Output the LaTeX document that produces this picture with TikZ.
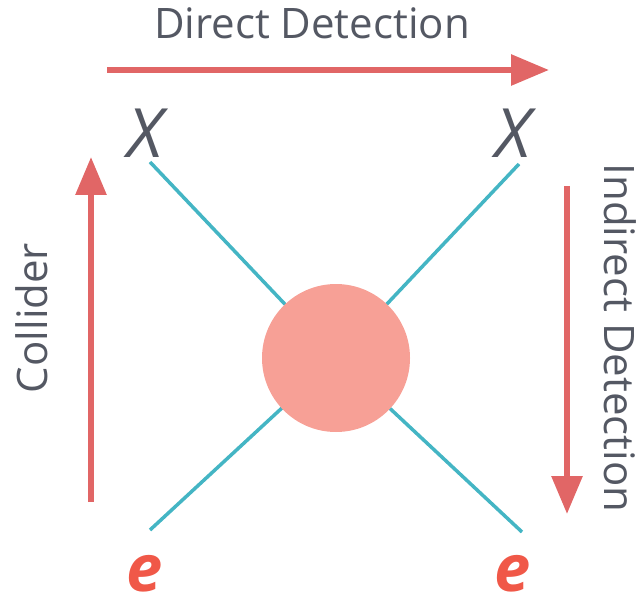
\documentclass[tikz,border=0pt]{standalone}
\usepackage{fontspec}
\setmainfont{Open Sans}
\usetikzlibrary{arrows.meta,positioning}
\usepackage{xcolor}
\definecolor{arrowred}{RGB}{225,102,102}
\definecolor{textgray}{RGB}{84,88,99}
\definecolor{linkteal}{RGB}{68,181,196}
\definecolor{blobpink}{RGB}{247,160,150}
\definecolor{ered}{RGB}{240,88,72}

\begin{document}
\begin{tikzpicture}[
            x=1pt, y=1pt,
            arrow/.style={-{Triangle[length=38pt,width=30pt]}, line width=6pt, draw=arrowred},
            link/.style={line width=3.5pt, draw=linkteal},
            label/.style={text=textgray, font=\fontsize{42}{46}\selectfont, inner sep=0pt},
            particle/.style={text=textgray, font=\fontsize{68}{70}\selectfont\itshape, inner sep=0pt},
            lepton/.style={text=ered, font=\fontsize{65}{66}\selectfont\bfseries\itshape, inner sep=0pt}
        ]
            \useasboundingbox (0,0) rectangle (644,595);

            % --- PARTICULAS ---
            \node[particle] (chiL) at (145,462) {X};
            \node[particle] (chiR) at (513,462) {X};
            \node[lepton] (eL) at (145,21) {e};
            \node[lepton] (eR) at (513,21) {e};

            % --- LINHAS DO VERTICE ---
            \coordinate (tlEnd) at (150,433);
            \coordinate (trEnd) at (519,431);
            \coordinate (blEnd) at (150,65);
            \coordinate (brEnd) at (522,63);
            \coordinate (center) at (336,237);
            \draw[link] (tlEnd) -- (center);
            \draw[link] (trEnd) -- (center);
            \draw[link] (blEnd) -- (center);
            \draw[link] (brEnd) -- (center);
            \node[circle, fill=blobpink, minimum size=148pt, inner sep=0pt] (blob) at (center) {};

            % --- SETAS ---
            \coordinate (directStart) at (107,525);
            \coordinate (directEnd) at (549,525);
            \draw[arrow] (directStart) -- (directEnd);
            \coordinate (colliderStart) at (91,93);
            \coordinate (colliderEnd) at (91,438);
            \draw[arrow] (colliderStart) -- (colliderEnd);
            \coordinate (indirectStart) at (567,409);
            \coordinate (indirectEnd) at (567,81);
            \draw[arrow] (indirectStart) -- (indirectEnd);

            % --- TEXTOS ---
            \node[label] (direct) at (312,572) {Direct Detection};
            \node[label, rotate=90] (collider) at (32,277) {Collider};
            \node[label, rotate=-90] (indirect) at (620,257) {Indirect Detection};

        \end{tikzpicture}
\end{document}
